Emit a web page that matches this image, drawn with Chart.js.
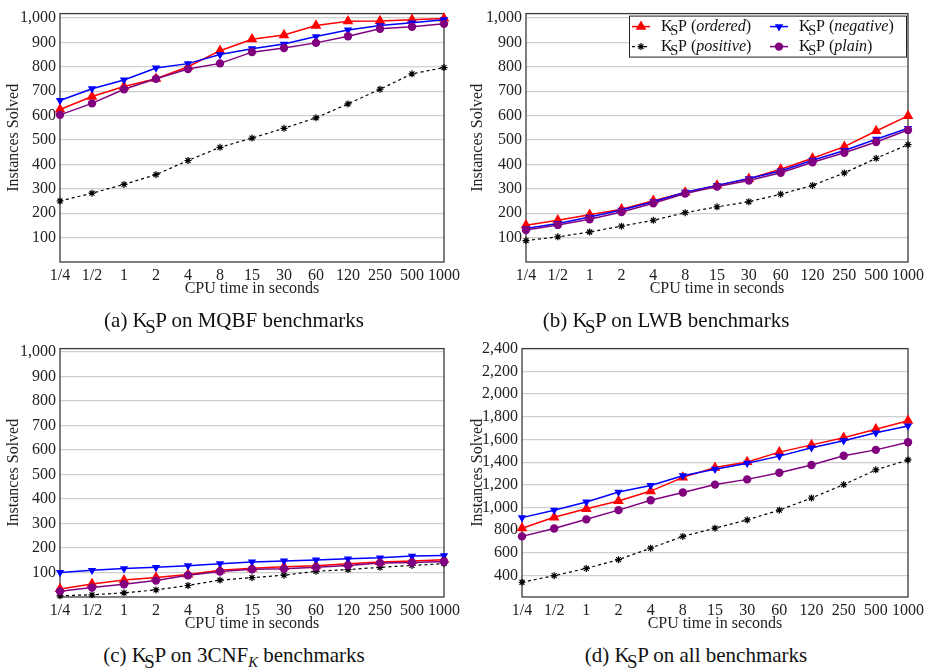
<!DOCTYPE html>
<html>
<head>
<meta charset="utf-8">
<script src="https://cdn.jsdelivr.net/npm/chart.js@4.4.1/dist/chart.umd.min.js"></script>
<style>
body { margin: 0; background: #fff; }
#wrap { position: relative; width: 928px; height: 671px; font-family: "Liberation Serif", "DejaVu Serif", "Times New Roman", Times, serif; color: #111; }
canvas { position: absolute; }
.caption { position: absolute; font-size: 21px; line-height: 22px; white-space: nowrap; transform: translateX(-50%); }
.ks { font-size: 0.9em; position: relative; top: 0.3em; margin-left: -0.14em; margin-right: -0.02em; }
</style>
</head>
<body>
<div id="wrap">
  <canvas id="chartA" width="464" height="300" style="left:0;top:0"></canvas>
  <canvas id="chartB" width="464" height="300" style="left:464px;top:0"></canvas>
  <canvas id="chartC" width="464" height="300" style="left:0;top:335px"></canvas>
  <canvas id="chartD" width="464" height="300" style="left:464px;top:335px"></canvas>
  <div class="caption" style="left:234px;top:309px">(a) K<span class="ks">S</span>P on MQBF benchmarks</div>
  <div class="caption" style="left:666px;top:309px">(b) K<span class="ks">S</span>P on LWB benchmarks</div>
  <div class="caption" style="left:234px;top:644px">(c) K<span class="ks">S</span>P on 3CNF<sub style="font-style:italic;font-size:0.7em">K</sub> benchmarks</div>
  <div class="caption" style="left:696px;top:644px">(d) K<span class="ks">S</span>P on all benchmarks</div>
</div>
<script>
// categories and values
const timeLabels = ['1/4', '1/2', '1', '2', '4', '8', '15', '30', '60', '120', '250', '500', '1000'];
const seriesNames = ['ordered', 'negative', 'positive', 'plain'];

const mqbfOrdered  = [625, 678, 719, 751, 800, 866, 913, 930, 969, 987, 988, 993, 998];
const mqbfNegative = [662, 710, 746, 795, 813, 850, 874, 893, 924, 951, 969, 980, 993];
const mqbfPositive = [250, 282, 318, 358, 416, 470, 508, 548, 591, 648, 708, 771, 797];
const mqbfPlain    = [603, 650, 708, 751, 791, 814, 860, 877, 898, 925, 956, 964, 976];

const lwbOrdered  = [151, 171, 194, 216, 251, 285, 314, 341, 380, 425, 473, 537, 599];
const lwbNegative = [137, 158, 184, 213, 247, 286, 314, 342, 373, 417, 457, 503, 548];
const lwbPositive = [88, 103, 123, 147, 171, 202, 226, 247, 278, 314, 365, 425, 481];
const lwbPlain    = [131, 152, 175, 205, 241, 281, 309, 334, 366, 409, 448, 492, 541];

const cnfOrdered  = [33, 53, 69, 80, 92, 109, 117, 123, 128, 136, 143, 147, 152];
const cnfNegative = [100, 109, 116, 121, 128, 136, 143, 147, 151, 156, 160, 167, 169];
const cnfPositive = [5, 9, 17, 29, 47, 69, 79, 89, 105, 112, 121, 129, 136];
const cnfPlain    = [23, 39, 52, 67, 89, 104, 113, 115, 121, 129, 139, 141, 145];

const allOrdered  = [818, 914, 989, 1058, 1145, 1266, 1352, 1401, 1488, 1552, 1615, 1690, 1765];
const allNegative = [911, 977, 1049, 1136, 1194, 1280, 1338, 1390, 1453, 1526, 1589, 1658, 1719];
const allPositive = [342, 400, 464, 541, 642, 746, 818, 891, 977, 1084, 1202, 1332, 1419];
const allPlain    = [746, 816, 896, 977, 1064, 1133, 1202, 1248, 1306, 1375, 1456, 1508, 1575];

const ticksSmall = [100, 200, 300, 400, 500, 600, 700, 800, 900, 1000];
const ticksAll = [400, 600, 800, 1000, 1200, 1400, 1600, 1800, 2000, 2200, 2400];

const FONT = '"Liberation Serif", "DejaVu Serif", "Times New Roman", Times, serif';

const styles = {
    ordered:  { color: '#ff0000', pointStyle: 'triangle', radius: 6.2, rotation: 0, width: 1.5, dash: [], order: 4 },
    negative: { color: '#0000ff', pointStyle: 'triangle', radius: 4.8, rotation: 180, width: 1.5, dash: [], order: 3 },
    positive: { color: '#000000', pointStyle: 'star', radius: 3.5, rotation: 0, width: 1.2, dash: [3, 3], order: 2 },
    plain:    { color: '#800080', pointStyle: 'circle', radius: 4.2, rotation: 0, width: 1.5, dash: [], order: 1 }
};

function makeDataset(name, values) {
    const s = styles[name];
    return {
        label: name,
        data: values,
        borderColor: s.color,
        backgroundColor: s.color,
        borderWidth: s.width,
        borderDash: s.dash,
        pointStyle: s.pointStyle,
        pointRadius: s.radius,
        pointRotation: s.rotation,
        pointBorderWidth: name === 'positive' ? 1.2 : 0,
        pointBorderColor: s.color,
        pointBackgroundColor: s.color,
        order: s.order,
        clip: false,
        tension: 0
    };
}

const framePlugin = {
    id: 'frame',
    beforeDatasetsDraw(chart) {
        const { ctx, chartArea: a } = chart;
        ctx.save();
        ctx.strokeStyle = '#3a3a3a';
        ctx.lineWidth = 1.3;
        ctx.strokeRect(a.left, a.top, a.right - a.left, a.bottom - a.top);
        ctx.restore();
    }
};

function drawKsp(ctx, x, y, word, size) {
    ctx.textBaseline = 'middle';
    ctx.textAlign = 'left';
    ctx.font = size + 'px ' + FONT;
    ctx.fillText('K', x, y);
    x += ctx.measureText('K').width - size * 0.14;
    ctx.font = (size * 0.9) + 'px ' + FONT;
    ctx.fillText('S', x, y + size * 0.28);
    x += ctx.measureText('S').width - size * 0.02;
    ctx.font = size + 'px ' + FONT;
    ctx.fillText('P', x, y);
    x += ctx.measureText('P').width;
    ctx.fillText(' (', x, y);
    x += ctx.measureText(' (').width;
    ctx.font = 'italic ' + size + 'px ' + FONT;
    ctx.fillText(word, x, y);
    x += ctx.measureText(word).width;
    ctx.font = size + 'px ' + FONT;
    ctx.fillText(')', x, y);
}

const legendPlugin = {
    id: 'kspLegend',
    afterDraw(chart) {
        const { ctx, chartArea: a } = chart;
        const w = 277, h = 41;
        const left = a.right - w - 2, top = a.top + 2;
        ctx.save();
        ctx.fillStyle = '#fff';
        ctx.fillRect(left, top, w, h);
        ctx.strokeStyle = '#222';
        ctx.lineWidth = 1;
        ctx.strokeRect(left + 0.5, top + 0.5, w, h);
        // row-wise, two columns: ordered, negative / positive, plain
        const cells = [['ordered', 0, 0], ['negative', 1, 0], ['positive', 0, 1], ['plain', 1, 1]];
        cells.forEach(([name, col, row]) => {
            const s = styles[name];
            const cx = left + (col === 0 ? 12 : 150);
            const cy = top + 11 + row * 20;
            ctx.strokeStyle = s.color;
            ctx.lineWidth = s.width;
            ctx.setLineDash(s.dash);
            ctx.beginPath();
            ctx.moveTo(cx - 9, cy);
            ctx.lineTo(cx + 9, cy);
            ctx.stroke();
            ctx.setLineDash([]);
            ctx.fillStyle = s.color;
            Chart.helpers.drawPoint(ctx, {
                pointStyle: s.pointStyle, radius: s.radius, rotation: s.rotation,
                borderWidth: name === 'positive' ? 1.2 : 0
            }, cx, cy);
            ctx.fillStyle = '#111';
            drawKsp(ctx, cx + 20, cy, name, 16);
        });
        ctx.restore();
    }
};

function makePanel(id, values, yTicks, yMin, yMax, yWidth, padRight, withLegend) {
    const ctx = document.getElementById(id).getContext('2d');
    return new Chart(ctx, {
        type: 'line',
        data: {
            labels: timeLabels,
            datasets: seriesNames.map((n, i) => makeDataset(n, values[i]))
        },
        options: {
            responsive: false,
            animation: false,
            devicePixelRatio: 1,
            layout: { padding: { top: 9, right: padRight, bottom: 0, left: 0 } },
            plugins: { legend: { display: false }, tooltip: { enabled: false } },
            scales: {
                x: {
                    type: 'category',
                    offset: false,
                    grid: { display: false, drawTicks: false },
                    border: { display: false },
                    ticks: { color: '#222', font: { family: FONT, size: 16 }, padding: 4, maxRotation: 0, autoSkip: false },
                    title: { display: true, text: 'CPU time in seconds', color: '#222', font: { family: FONT, size: 16 }, padding: { top: 0, bottom: 2 } },
                    afterFit(scale) { scale.height = 38; }
                },
                y: {
                    min: yMin,
                    max: yMax,
                    grid: { color: '#cfcfcf', lineWidth: 1.2, drawTicks: false },
                    border: { display: false },
                    ticks: {
                        color: '#222',
                        font: { family: FONT, size: 16 },
                        padding: 4,
                        callback: (v) => Number(v).toLocaleString('en-US')
                    },
                    afterBuildTicks(scale) { scale.ticks = yTicks.map(v => ({ value: v })); },
                    title: { display: true, text: 'Instances Solved', color: '#222', font: { family: FONT, size: 16 }, padding: { top: 4, bottom: 0 } },
                    afterFit(scale) { scale.width = yWidth; }
                }
            }
        },
        plugins: withLegend ? [framePlugin, legendPlugin] : [framePlugin]
    });
}

makePanel('chartA', [mqbfOrdered, mqbfNegative, mqbfPositive, mqbfPlain], ticksSmall, 0, 1018, 60, 16, false);
makePanel('chartB', [lwbOrdered, lwbNegative, lwbPositive, lwbPlain], ticksSmall, 0, 1018, 62, 14, true);
makePanel('chartC', [cnfOrdered, cnfNegative, cnfPositive, cnfPlain], ticksSmall, 0, 1014, 60, 16, false);
makePanel('chartD', [allOrdered, allNegative, allPositive, allPlain], ticksAll, 212, 2400, 58, 18, false);
</script>
</body>
</html>
